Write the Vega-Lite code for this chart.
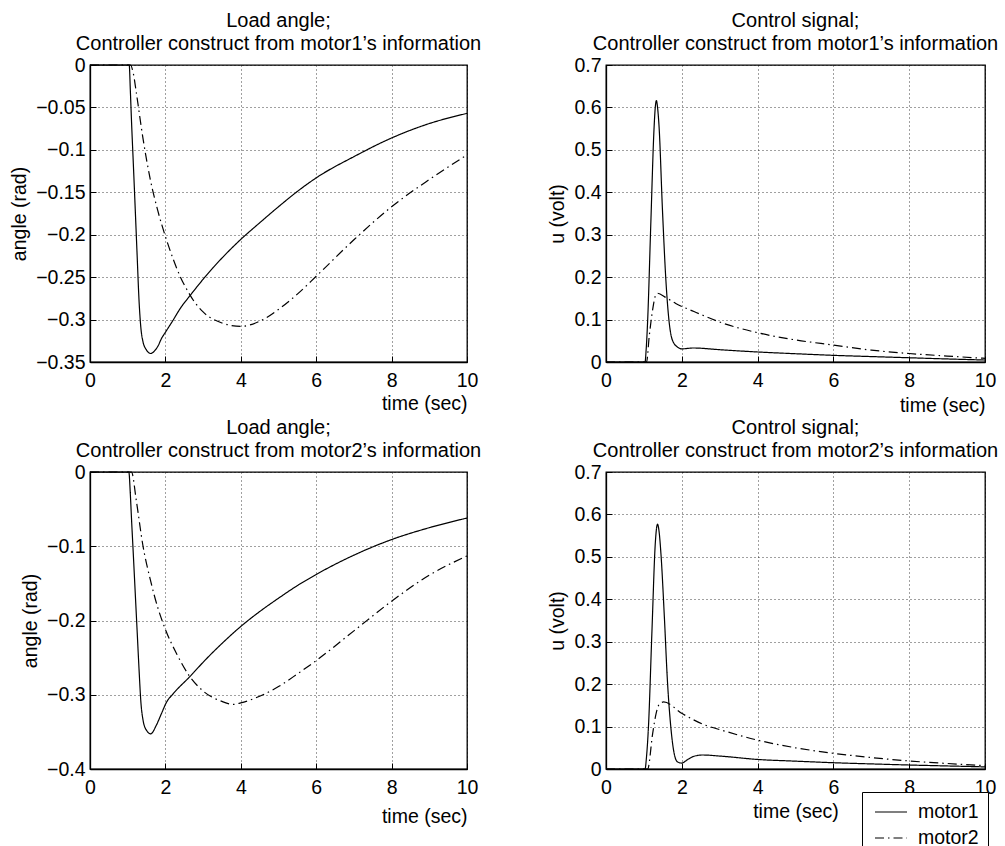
{
"$schema": "https://vega.github.io/schema/vega-lite/v6.json",
"background": "white",
"padding": {"left": 9, "top": 10, "right": 0, "bottom": 0},
"bounds": "flush",
"columns": 2,
"spacing": {"row": 110, "column": 139},
"data": {"values": [
{"p":"a","s":"motor1","t":0,"v":0},{"p":"a","s":"motor1","t":1,"v":0},{"p":"a","s":"motor1","t":1.04,"v":0},{"p":"a","s":"motor1","t":1.07,"v":-0.03},{"p":"a","s":"motor1","t":1.1,"v":-0.065},{"p":"a","s":"motor1","t":1.15,"v":-0.117},{"p":"a","s":"motor1","t":1.2,"v":-0.17},{"p":"a","s":"motor1","t":1.25,"v":-0.224},{"p":"a","s":"motor1","t":1.3,"v":-0.277},{"p":"a","s":"motor1","t":1.35,"v":-0.31},{"p":"a","s":"motor1","t":1.4,"v":-0.325},{"p":"a","s":"motor1","t":1.5,"v":-0.336},{"p":"a","s":"motor1","t":1.61,"v":-0.34},{"p":"a","s":"motor1","t":1.7,"v":-0.3375},{"p":"a","s":"motor1","t":1.8,"v":-0.3315},{"p":"a","s":"motor1","t":1.9,"v":-0.322},{"p":"a","s":"motor1","t":2,"v":-0.315},{"p":"a","s":"motor1","t":2.2,"v":-0.301},{"p":"a","s":"motor1","t":2.4,"v":-0.2865},{"p":"a","s":"motor1","t":2.64,"v":-0.2725},{"p":"a","s":"motor1","t":2.8,"v":-0.2635},{"p":"a","s":"motor1","t":3,"v":-0.2525},{"p":"a","s":"motor1","t":3.25,"v":-0.2395},{"p":"a","s":"motor1","t":3.5,"v":-0.2275},{"p":"a","s":"motor1","t":4,"v":-0.2055},{"p":"a","s":"motor1","t":4.5,"v":-0.186},{"p":"a","s":"motor1","t":5,"v":-0.167},{"p":"a","s":"motor1","t":5.5,"v":-0.149},{"p":"a","s":"motor1","t":6,"v":-0.133},{"p":"a","s":"motor1","t":7,"v":-0.108},{"p":"a","s":"motor1","t":8,"v":-0.086},{"p":"a","s":"motor1","t":9,"v":-0.069},{"p":"a","s":"motor1","t":10,"v":-0.057},
{"p":"a","s":"motor2","t":0,"v":0},{"p":"a","s":"motor2","t":1.07,"v":0},{"p":"a","s":"motor2","t":1.15,"v":-0.01},{"p":"a","s":"motor2","t":1.23,"v":-0.033},{"p":"a","s":"motor2","t":1.4,"v":-0.085},{"p":"a","s":"motor2","t":1.6,"v":-0.135},{"p":"a","s":"motor2","t":1.8,"v":-0.172},{"p":"a","s":"motor2","t":2,"v":-0.202},{"p":"a","s":"motor2","t":2.2,"v":-0.228},{"p":"a","s":"motor2","t":2.4,"v":-0.25},{"p":"a","s":"motor2","t":2.6,"v":-0.267},{"p":"a","s":"motor2","t":2.8,"v":-0.281},{"p":"a","s":"motor2","t":3,"v":-0.291},{"p":"a","s":"motor2","t":3.5,"v":-0.304},{"p":"a","s":"motor2","t":4,"v":-0.308},{"p":"a","s":"motor2","t":4.5,"v":-0.302},{"p":"a","s":"motor2","t":5,"v":-0.288},{"p":"a","s":"motor2","t":5.5,"v":-0.27},{"p":"a","s":"motor2","t":6,"v":-0.249},{"p":"a","s":"motor2","t":7,"v":-0.206},{"p":"a","s":"motor2","t":8,"v":-0.167},{"p":"a","s":"motor2","t":9,"v":-0.135},{"p":"a","s":"motor2","t":10,"v":-0.106},
{"p":"b","s":"motor1","t":0,"v":0},{"p":"b","s":"motor1","t":1,"v":0},{"p":"b","s":"motor1","t":1.03,"v":0},{"p":"b","s":"motor1","t":1.06,"v":0.03},{"p":"b","s":"motor1","t":1.1,"v":0.1},{"p":"b","s":"motor1","t":1.18,"v":0.32},{"p":"b","s":"motor1","t":1.27,"v":0.555},{"p":"b","s":"motor1","t":1.3,"v":0.6},{"p":"b","s":"motor1","t":1.33,"v":0.616},{"p":"b","s":"motor1","t":1.36,"v":0.6},{"p":"b","s":"motor1","t":1.4,"v":0.555},{"p":"b","s":"motor1","t":1.49,"v":0.358},{"p":"b","s":"motor1","t":1.58,"v":0.193},{"p":"b","s":"motor1","t":1.67,"v":0.091},{"p":"b","s":"motor1","t":1.75,"v":0.052},{"p":"b","s":"motor1","t":1.89,"v":0.035},{"p":"b","s":"motor1","t":2,"v":0.031},{"p":"b","s":"motor1","t":2.3,"v":0.033},{"p":"b","s":"motor1","t":3,"v":0.029},{"p":"b","s":"motor1","t":4,"v":0.0236},{"p":"b","s":"motor1","t":5,"v":0.0195},{"p":"b","s":"motor1","t":6,"v":0.0157},{"p":"b","s":"motor1","t":7,"v":0.0128},{"p":"b","s":"motor1","t":8,"v":0.01},{"p":"b","s":"motor1","t":9,"v":0.0072},{"p":"b","s":"motor1","t":10,"v":0.0047},
{"p":"b","s":"motor2","t":0,"v":0},{"p":"b","s":"motor2","t":1.07,"v":0},{"p":"b","s":"motor2","t":1.14,"v":0.06},{"p":"b","s":"motor2","t":1.23,"v":0.123},{"p":"b","s":"motor2","t":1.3,"v":0.155},{"p":"b","s":"motor2","t":1.36,"v":0.162},{"p":"b","s":"motor2","t":1.58,"v":0.152},{"p":"b","s":"motor2","t":1.84,"v":0.138},{"p":"b","s":"motor2","t":2.32,"v":0.119},{"p":"b","s":"motor2","t":3.07,"v":0.092},{"p":"b","s":"motor2","t":4,"v":0.069},{"p":"b","s":"motor2","t":5,"v":0.052},{"p":"b","s":"motor2","t":6,"v":0.04},{"p":"b","s":"motor2","t":7,"v":0.028},{"p":"b","s":"motor2","t":8,"v":0.02},{"p":"b","s":"motor2","t":9,"v":0.014},{"p":"b","s":"motor2","t":10,"v":0.0086},
{"p":"c","s":"motor1","t":0,"v":0},{"p":"c","s":"motor1","t":1,"v":0},{"p":"c","s":"motor1","t":1.03,"v":0},{"p":"c","s":"motor1","t":1.07,"v":-0.03},{"p":"c","s":"motor1","t":1.1,"v":-0.062},{"p":"c","s":"motor1","t":1.15,"v":-0.112},{"p":"c","s":"motor1","t":1.2,"v":-0.163},{"p":"c","s":"motor1","t":1.25,"v":-0.214},{"p":"c","s":"motor1","t":1.3,"v":-0.265},{"p":"c","s":"motor1","t":1.35,"v":-0.31},{"p":"c","s":"motor1","t":1.41,"v":-0.335},{"p":"c","s":"motor1","t":1.5,"v":-0.348},{"p":"c","s":"motor1","t":1.61,"v":-0.3526},{"p":"c","s":"motor1","t":1.76,"v":-0.341},{"p":"c","s":"motor1","t":1.89,"v":-0.326},{"p":"c","s":"motor1","t":2.03,"v":-0.31},{"p":"c","s":"motor1","t":2.2,"v":-0.299},{"p":"c","s":"motor1","t":2.64,"v":-0.276},{"p":"c","s":"motor1","t":3.08,"v":-0.252},{"p":"c","s":"motor1","t":3.52,"v":-0.23},{"p":"c","s":"motor1","t":4,"v":-0.208},{"p":"c","s":"motor1","t":4.5,"v":-0.188},{"p":"c","s":"motor1","t":5,"v":-0.17},{"p":"c","s":"motor1","t":5.5,"v":-0.153},{"p":"c","s":"motor1","t":6,"v":-0.138},{"p":"c","s":"motor1","t":7,"v":-0.112},{"p":"c","s":"motor1","t":8,"v":-0.091},{"p":"c","s":"motor1","t":9,"v":-0.075},{"p":"c","s":"motor1","t":10,"v":-0.062},
{"p":"c","s":"motor2","t":0,"v":0},{"p":"c","s":"motor2","t":1.1,"v":0},{"p":"c","s":"motor2","t":1.23,"v":-0.039},{"p":"c","s":"motor2","t":1.4,"v":-0.098},{"p":"c","s":"motor2","t":1.6,"v":-0.145},{"p":"c","s":"motor2","t":1.8,"v":-0.183},{"p":"c","s":"motor2","t":2,"v":-0.212},{"p":"c","s":"motor2","t":2.3,"v":-0.245},{"p":"c","s":"motor2","t":2.6,"v":-0.272},{"p":"c","s":"motor2","t":3,"v":-0.295},{"p":"c","s":"motor2","t":3.5,"v":-0.309},{"p":"c","s":"motor2","t":3.8,"v":-0.313},{"p":"c","s":"motor2","t":4,"v":-0.311},{"p":"c","s":"motor2","t":4.5,"v":-0.302},{"p":"c","s":"motor2","t":5,"v":-0.289},{"p":"c","s":"motor2","t":5.5,"v":-0.272},{"p":"c","s":"motor2","t":6,"v":-0.254},{"p":"c","s":"motor2","t":7,"v":-0.214},{"p":"c","s":"motor2","t":8,"v":-0.174},{"p":"c","s":"motor2","t":9,"v":-0.139},{"p":"c","s":"motor2","t":10,"v":-0.113},
{"p":"d","s":"motor1","t":0,"v":0},{"p":"d","s":"motor1","t":1,"v":0},{"p":"d","s":"motor1","t":1.03,"v":0},{"p":"d","s":"motor1","t":1.07,"v":0.03},{"p":"d","s":"motor1","t":1.12,"v":0.099},{"p":"d","s":"motor1","t":1.21,"v":0.319},{"p":"d","s":"motor1","t":1.3,"v":0.531},{"p":"d","s":"motor1","t":1.33,"v":0.565},{"p":"d","s":"motor1","t":1.36,"v":0.577},{"p":"d","s":"motor1","t":1.4,"v":0.56},{"p":"d","s":"motor1","t":1.45,"v":0.507},{"p":"d","s":"motor1","t":1.54,"v":0.358},{"p":"d","s":"motor1","t":1.62,"v":0.209},{"p":"d","s":"motor1","t":1.71,"v":0.099},{"p":"d","s":"motor1","t":1.8,"v":0.036},{"p":"d","s":"motor1","t":1.89,"v":0.0165},{"p":"d","s":"motor1","t":2,"v":0.014},{"p":"d","s":"motor1","t":2.15,"v":0.022},{"p":"d","s":"motor1","t":2.32,"v":0.03},{"p":"d","s":"motor1","t":2.54,"v":0.033},{"p":"d","s":"motor1","t":3.07,"v":0.03},{"p":"d","s":"motor1","t":4,"v":0.0225},{"p":"d","s":"motor1","t":5,"v":0.0185},{"p":"d","s":"motor1","t":6,"v":0.0148},{"p":"d","s":"motor1","t":7,"v":0.012},{"p":"d","s":"motor1","t":8,"v":0.0094},{"p":"d","s":"motor1","t":9,"v":0.0072},{"p":"d","s":"motor1","t":10,"v":0.005},
{"p":"d","s":"motor2","t":0,"v":0},{"p":"d","s":"motor2","t":1.1,"v":0},{"p":"d","s":"motor2","t":1.23,"v":0.083},{"p":"d","s":"motor2","t":1.32,"v":0.13},{"p":"d","s":"motor2","t":1.4,"v":0.152},{"p":"d","s":"motor2","t":1.52,"v":0.158},{"p":"d","s":"motor2","t":2.02,"v":0.13},{"p":"d","s":"motor2","t":2.63,"v":0.103},{"p":"d","s":"motor2","t":3.07,"v":0.091},{"p":"d","s":"motor2","t":4,"v":0.068},{"p":"d","s":"motor2","t":5,"v":0.05},{"p":"d","s":"motor2","t":6,"v":0.037},{"p":"d","s":"motor2","t":7,"v":0.027},{"p":"d","s":"motor2","t":8,"v":0.019},{"p":"d","s":"motor2","t":9,"v":0.013},{"p":"d","s":"motor2","t":10,"v":0.008}
]},
"config": {
 "font": "Liberation Sans",
 "view": {"stroke": "black", "strokeWidth": 1.3},
 "title": {"fontSize": 20, "fontWeight": "normal", "color": "black", "lineHeight": 23, "offset": 1, "anchor": "middle", "frame": "group"},
 "axis": {"labelFontSize": 19.5, "titleFontSize": 19.5, "titleFontWeight": "normal", "labelColor": "black", "titleColor": "black", "domainColor": "black", "domainWidth": 1.3, "tickColor": "black", "tickSize": -6, "gridColor": "black", "gridDash": [1, 3], "gridOpacity": 0.75, "grid": true, "titlePadding": 6, "labelFlush": false, "labelOverlap": false},
 "axisX": {"labelPadding": 15},
 "axisY": {"labelPadding": 11}
},
"concat": [
 {"width": 377, "height": 297,
  "title": {"text": ["Load angle;", "Controller construct from motor1’s information"]},
  "transform": [{"filter": "datum.p == 'a'"}],
  "mark": {"type": "line", "stroke": "black", "strokeWidth": 1.2, "interpolate": "monotone"},
  "encoding": {
   "x": {"field": "t", "type": "quantitative", "scale": {"domain": [0, 10], "nice": false}, "axis": {"values": [0, 2, 4, 6, 8, 10], "title": "time (sec)", "titleAnchor": "end", "titlePadding": 5}},
   "y": {"field": "v", "type": "quantitative", "scale": {"domain": [-0.35, 0], "nice": false, "zero": false}, "axis": {"values": [0, -0.05, -0.1, -0.15, -0.2, -0.25, -0.3, -0.35], "format": ".2~f", "title": "angle (rad)"}},
   "strokeDash": {"field": "s", "type": "nominal", "scale": {"domain": ["motor1", "motor2"], "range": [[1, 0], [9, 4, 1.5, 4]]}, "legend": null}
  }},
 {"width": 379, "height": 297,
  "title": {"text": ["Control signal;", "Controller construct from motor1’s information"]},
  "transform": [{"filter": "datum.p == 'b'"}],
  "mark": {"type": "line", "stroke": "black", "strokeWidth": 1.2, "interpolate": "monotone"},
  "encoding": {
   "x": {"field": "t", "type": "quantitative", "scale": {"domain": [0, 10], "nice": false}, "axis": {"values": [0, 2, 4, 6, 8, 10], "title": "time (sec)", "titleAnchor": "end", "titlePadding": 7}},
   "y": {"field": "v", "type": "quantitative", "scale": {"domain": [0, 0.7], "nice": false}, "axis": {"values": [0, 0.1, 0.2, 0.3, 0.4, 0.5, 0.6, 0.7], "format": ".1~f", "title": "u (volt)"}},
   "strokeDash": {"field": "s", "type": "nominal", "scale": {"domain": ["motor1", "motor2"], "range": [[1, 0], [9, 4, 1.5, 4]]}, "legend": null}
  }},
 {"width": 377, "height": 297,
  "title": {"text": ["Load angle;", "Controller construct from motor2’s information"]},
  "transform": [{"filter": "datum.p == 'c'"}],
  "mark": {"type": "line", "stroke": "black", "strokeWidth": 1.2, "interpolate": "monotone"},
  "encoding": {
   "x": {"field": "t", "type": "quantitative", "scale": {"domain": [0, 10], "nice": false}, "axis": {"values": [0, 2, 4, 6, 8, 10], "title": "time (sec)", "titleAnchor": "end", "titlePadding": 11}},
   "y": {"field": "v", "type": "quantitative", "scale": {"domain": [-0.4, 0], "nice": false, "zero": false}, "axis": {"values": [0, -0.1, -0.2, -0.3, -0.4], "format": ".1~f", "title": "angle (rad)"}},
   "strokeDash": {"field": "s", "type": "nominal", "scale": {"domain": ["motor1", "motor2"], "range": [[1, 0], [9, 4, 1.5, 4]]}, "legend": null}
  }},
 {"width": 379, "height": 297,
  "title": {"text": ["Control signal;", "Controller construct from motor2’s information"]},
  "transform": [{"filter": "datum.p == 'd'"}],
  "mark": {"type": "line", "stroke": "black", "strokeWidth": 1.2, "interpolate": "monotone"},
  "encoding": {
   "x": {"field": "t", "type": "quantitative", "scale": {"domain": [0, 10], "nice": false}, "axis": {"values": [0, 2, 4, 6, 8, 10], "title": "time (sec)", "titlePadding": 6}},
   "y": {"field": "v", "type": "quantitative", "scale": {"domain": [0, 0.7], "nice": false}, "axis": {"values": [0, 0.1, 0.2, 0.3, 0.4, 0.5, 0.6, 0.7], "format": ".1~f", "title": "u (volt)"}},
   "strokeDash": {"field": "s", "type": "nominal", "scale": {"domain": ["motor1", "motor2"], "range": [[1, 0], [9, 4, 1.5, 4]]},
     "legend": {"orient": "none", "legendX": 256, "legendY": 320, "title": null, "strokeColor": "black", "fillColor": "white", "padding": 9, "labelFontSize": 19.5, "labelColor": "black", "symbolType": "M-1.6,0H1.6", "symbolSize": 400, "symbolOffset": 9, "symbolStrokeColor": "black", "symbolStrokeWidth": 1.2, "symbolFillColor": "transparent", "rowPadding": 5, "labelOffset": 16, "cornerRadius": 0}}
  }}
],
"resolve": {"scale": {"x": "independent", "y": "independent", "strokeDash": "independent"}, "legend": {"strokeDash": "independent"}}
}
